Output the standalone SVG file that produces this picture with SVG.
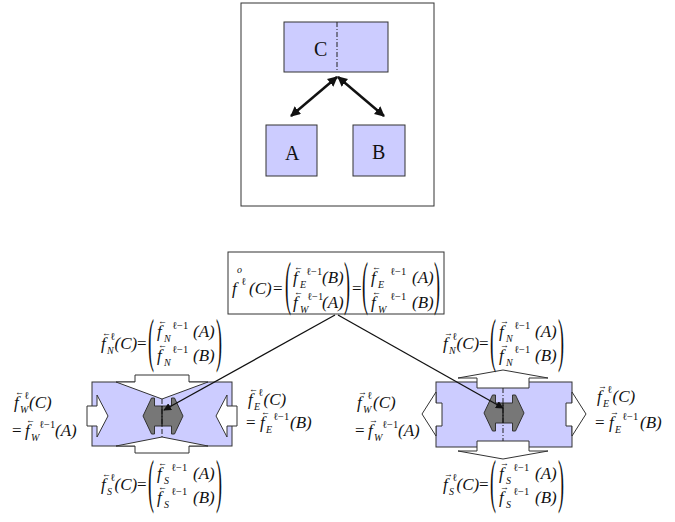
<svg xmlns="http://www.w3.org/2000/svg" width="675" height="522" viewBox="0 0 675 522">
<style>
text{font-family:"Liberation Serif","Times New Roman",serif;fill:#111}
.f{font-size:17px;font-style:italic}
.n{font-size:17px;font-style:normal}
.sb{font-size:10px;font-style:italic}
.sp{font-size:10.5px;font-style:normal}
.ar{font-size:9px;font-style:normal}
.p{font-size:60px}
.big{font-size:20px}
.frame{fill:#fff;stroke:#333;stroke-width:1}
.box{fill:#ccccff;stroke:#333;stroke-width:1}
.wh{fill:#fff;stroke:#333;stroke-width:1}
.gr{fill:#777;stroke:#333;stroke-width:1}
.con{stroke:#111;stroke-width:1.3;fill:none}
.dbl{stroke:#111;stroke-width:2.5;fill:none}
.dd{stroke:#222;stroke-width:1;stroke-dasharray:5 2 1 2;fill:none}
.sl{stroke:#111;stroke-width:1.2;fill:none}
</style>
<defs>
<marker id="ah" viewBox="0 0 10 10" refX="9" refY="5" markerWidth="6" markerHeight="6" orient="auto-start-reverse"><path d="M0,0 L10,5 L0,10 z" fill="#111"/></marker>
<marker id="ahb" viewBox="0 0 10 10" refX="9" refY="5" markerWidth="4" markerHeight="4" orient="auto-start-reverse"><path d="M0,0 L10,5 L0,10 z" fill="#111"/></marker>
<polygon id="grayshape" points="-20,0 -11.5,-18 -8.5,-18 -8.5,-10 8.5,-10 8.5,-18 11.5,-18 20,0 11.5,18 8.5,18 8.5,10 -8.5,10 -8.5,18 -11.5,18"/>
</defs>

<g id="frame"><rect class="frame" x="241" y="3" width="193" height="203"/></g>

<g id="nodeC">
<rect class="box" x="284" y="22" width="104" height="50"/>
<line class="dd" x1="337" y1="22" x2="337" y2="72"/>
<text class="big" x="314" y="56">C</text>
</g>
<g id="nodeA"><rect class="box" x="266" y="125" width="51" height="51"/><text class="big" x="285" y="160">A</text></g>
<g id="nodeB"><rect class="box" x="353" y="125" width="52" height="51"/><text class="big" x="372" y="159">B</text></g>

<g id="formula">
<rect class="frame" x="228" y="252" width="216" height="62"/>
<text class="f" x="232" y="294">f<tspan class="sb" x="237" y="273">o</tspan><tspan class="sp" x="241" y="285">ℓ</tspan><tspan x="249" y="294">(C)</tspan><tspan class="n" x="273" y="294">=</tspan></text>
<text class="p" transform="translate(285,303) scale(0.3,1)">(</text>
<text class="f" x="293" y="283">f<tspan class="ar" x="294" y="270">←</tspan><tspan class="sb" x="300" y="288">E</tspan><tspan class="sp" x="306" y="275">ℓ−1</tspan><tspan x="322" y="283">(B)</tspan></text>
<text class="f" x="293" y="308">f<tspan class="ar" x="294" y="295">←</tspan><tspan class="sb" x="300" y="313">W</tspan><tspan class="sp" x="307" y="300">ℓ−1</tspan><tspan x="322" y="308">(A)</tspan></text>
<text class="p" transform="translate(344,303) scale(0.3,1)">)</text>
<text class="n" x="352" y="294">=</text>
<text class="p" transform="translate(362,303) scale(0.3,1)">(</text>
<text class="f" x="371" y="283">f<tspan class="ar" x="372" y="270">←</tspan><tspan class="sb" x="378" y="288">E</tspan><tspan class="sp" x="390" y="275">ℓ−1</tspan><tspan x="412" y="283">(A)</tspan></text>
<text class="f" x="371" y="308">f<tspan class="ar" x="372" y="295">←</tspan><tspan class="sb" x="378" y="313">W</tspan><tspan class="sp" x="390" y="300">ℓ−1</tspan><tspan x="412" y="308">(B)</tspan></text>
<text class="p" transform="translate(434,303) scale(0.3,1)">)</text>
</g>

<g id="leftBlock">
<rect class="box" x="92" y="382" width="140" height="64"/>
<polygon class="wh" points="116,382 135,382 135,375 189,375 189,382 208,382 162,399"/>
<polygon class="wh" points="116,446 135,446 135,453 189,453 189,446 208,446 162,437"/>
<polygon class="wh" points="97,395 108,416 97,437 97,426 87,426 87,406 97,406"/>
<polygon class="wh" points="227,395 216,416 227,437 227,426 237,426 237,406 227,406"/>
<use href="#grayshape" class="gr" x="163" y="416"/>
<line class="dd" x1="162" y1="399" x2="162" y2="437"/>
<line class="sl" x1="162" y1="406" x2="162" y2="426"/>
</g>

<g id="rightBlock">
<rect class="box" x="436" y="382" width="136" height="65"/>
<polygon class="wh" points="458,378 503,370 548,378 529,378 529,388 477,388 477,378"/>
<polygon class="wh" points="458,451 503,459 548,451 529,451 529,441 477,441 477,451"/>
<polygon class="wh" points="436,392 422,414 436,436 436,426 442,426 442,403 436,403"/>
<polygon class="wh" points="572,392 586,414 572,436 572,426 566,426 566,403 572,403"/>
<use href="#grayshape" class="gr" x="504" y="413"/>
<line class="dd" x1="503" y1="388" x2="503" y2="441"/>
<line class="sl" x1="503" y1="403" x2="503" y2="423"/>
</g>

<g id="leftLabels">
<g id="lN">
<text class="f" x="101" y="349">f<tspan class="ar" x="102" y="336">←</tspan><tspan class="sb" x="107" y="354">N</tspan><tspan class="sp" x="110" y="340">ℓ</tspan><tspan x="114.5" y="349">(C)</tspan><tspan class="n" x="137" y="349">=</tspan></text>
<text class="p" transform="translate(148,359.5) scale(0.3,1)">(</text>
<text class="f" x="157" y="337">f<tspan class="ar" x="158" y="324">←</tspan><tspan class="sb" x="164" y="342">N</tspan><tspan class="sp" x="172" y="329">ℓ−1</tspan><tspan x="193" y="337">(A)</tspan></text>
<text class="f" x="157" y="361">f<tspan class="ar" x="158" y="348">←</tspan><tspan class="sb" x="164" y="366">N</tspan><tspan class="sp" x="172" y="353">ℓ−1</tspan><tspan x="193" y="361">(B)</tspan></text>
<text class="p" transform="translate(216,359.5) scale(0.3,1)">)</text>
</g>
<g id="lW">
<text class="f" x="14" y="408">f<tspan class="ar" x="15" y="395">←</tspan><tspan class="sb" x="20" y="413">W</tspan><tspan class="sp" x="24" y="399">ℓ</tspan><tspan x="29" y="408">(C)</tspan></text>
<text class="n" x="12" y="436">=<tspan class="f" x="25" y="436">f</tspan><tspan class="ar" x="26" y="423">←</tspan><tspan class="sb" x="31" y="441">W</tspan><tspan class="sp" x="39" y="428">ℓ−1</tspan><tspan class="f" x="55" y="436">(A)</tspan></text>
</g>
<g id="lE">
<text class="f" x="248" y="405">f<tspan class="ar" x="249" y="392">←</tspan><tspan class="sb" x="254" y="410">E</tspan><tspan class="sp" x="258" y="396">ℓ</tspan><tspan x="263.5" y="405">(C)</tspan></text>
<text class="n" x="246" y="428">=<tspan class="f" x="260" y="428">f</tspan><tspan class="ar" x="261" y="415">←</tspan><tspan class="sb" x="266" y="433">E</tspan><tspan class="sp" x="273" y="420">ℓ−1</tspan><tspan class="f" x="290" y="428">(B)</tspan></text>
</g>
<g id="lS">
<text class="f" x="101" y="490">f<tspan class="ar" x="102" y="477">←</tspan><tspan class="sb" x="107" y="495">S</tspan><tspan class="sp" x="110" y="481">ℓ</tspan><tspan x="114.5" y="490">(C)</tspan><tspan class="n" x="137" y="490">=</tspan></text>
<text class="p" transform="translate(148,501) scale(0.3,1)">(</text>
<text class="f" x="157" y="479">f<tspan class="ar" x="158" y="466">←</tspan><tspan class="sb" x="164" y="484">S</tspan><tspan class="sp" x="171" y="471">ℓ−1</tspan><tspan x="193" y="479">(A)</tspan></text>
<text class="f" x="157" y="503">f<tspan class="ar" x="158" y="490">←</tspan><tspan class="sb" x="164" y="508">S</tspan><tspan class="sp" x="171" y="495">ℓ−1</tspan><tspan x="193" y="503">(B)</tspan></text>
<text class="p" transform="translate(216,501) scale(0.3,1)">)</text>
</g>
</g>

<g id="rightLabels">
<g id="rN">
<text class="f" x="443" y="349">f<tspan class="ar" x="444" y="336">→</tspan><tspan class="sb" x="449" y="354">N</tspan><tspan class="sp" x="452" y="340">ℓ</tspan><tspan x="456.5" y="349">(C)</tspan><tspan class="n" x="479" y="349">=</tspan></text>
<text class="p" transform="translate(490,359.5) scale(0.3,1)">(</text>
<text class="f" x="499" y="337">f<tspan class="ar" x="500" y="324">→</tspan><tspan class="sb" x="506" y="342">N</tspan><tspan class="sp" x="514" y="329">ℓ−1</tspan><tspan x="535" y="337">(A)</tspan></text>
<text class="f" x="499" y="361">f<tspan class="ar" x="500" y="348">→</tspan><tspan class="sb" x="506" y="366">N</tspan><tspan class="sp" x="514" y="353">ℓ−1</tspan><tspan x="535" y="361">(B)</tspan></text>
<text class="p" transform="translate(558,359.5) scale(0.3,1)">)</text>
</g>
<g id="rW">
<text class="f" x="357" y="408">f<tspan class="ar" x="358" y="395">→</tspan><tspan class="sb" x="363" y="413">W</tspan><tspan class="sp" x="367" y="399">ℓ</tspan><tspan x="373" y="408">(C)</tspan></text>
<text class="n" x="355" y="436">=<tspan class="f" x="368" y="436">f</tspan><tspan class="ar" x="369" y="423">→</tspan><tspan class="sb" x="374" y="441">W</tspan><tspan class="sp" x="382" y="428">ℓ−1</tspan><tspan class="f" x="398" y="436">(A)</tspan></text>
</g>
<g id="rE">
<text class="f" x="597" y="402">f<tspan class="ar" x="598" y="389">→</tspan><tspan class="sb" x="603" y="407">E</tspan><tspan class="sp" x="607" y="393">ℓ</tspan><tspan x="612.5" y="402">(C)</tspan></text>
<text class="n" x="595" y="428">=<tspan class="f" x="609" y="428">f</tspan><tspan class="ar" x="610" y="415">→</tspan><tspan class="sb" x="615" y="433">E</tspan><tspan class="sp" x="622" y="420">ℓ−1</tspan><tspan class="f" x="640" y="428">(B)</tspan></text>
</g>
<g id="rS">
<text class="f" x="443" y="490">f<tspan class="ar" x="444" y="477">→</tspan><tspan class="sb" x="449" y="495">S</tspan><tspan class="sp" x="452" y="481">ℓ</tspan><tspan x="456.5" y="490">(C)</tspan><tspan class="n" x="479" y="490">=</tspan></text>
<text class="p" transform="translate(490,501) scale(0.3,1)">(</text>
<text class="f" x="499" y="479">f<tspan class="ar" x="500" y="466">→</tspan><tspan class="sb" x="506" y="484">S</tspan><tspan class="sp" x="513" y="471">ℓ−1</tspan><tspan x="535" y="479">(A)</tspan></text>
<text class="f" x="499" y="503">f<tspan class="ar" x="500" y="490">→</tspan><tspan class="sb" x="506" y="508">S</tspan><tspan class="sp" x="513" y="495">ℓ−1</tspan><tspan x="535" y="503">(B)</tspan></text>
<text class="p" transform="translate(558,501) scale(0.3,1)">)</text>
</g>
</g>

<g id="connectors">
<line class="dbl" x1="337" y1="77" x2="291" y2="116" marker-start="url(#ahb)" marker-end="url(#ahb)"/>
<line class="dbl" x1="338" y1="77" x2="384" y2="116" marker-start="url(#ahb)" marker-end="url(#ahb)"/>
<line class="con" x1="335" y1="315" x2="164" y2="410" marker-end="url(#ah)"/>
<line class="con" x1="338" y1="315" x2="503" y2="408" marker-end="url(#ah)"/>
</g>
</svg>
